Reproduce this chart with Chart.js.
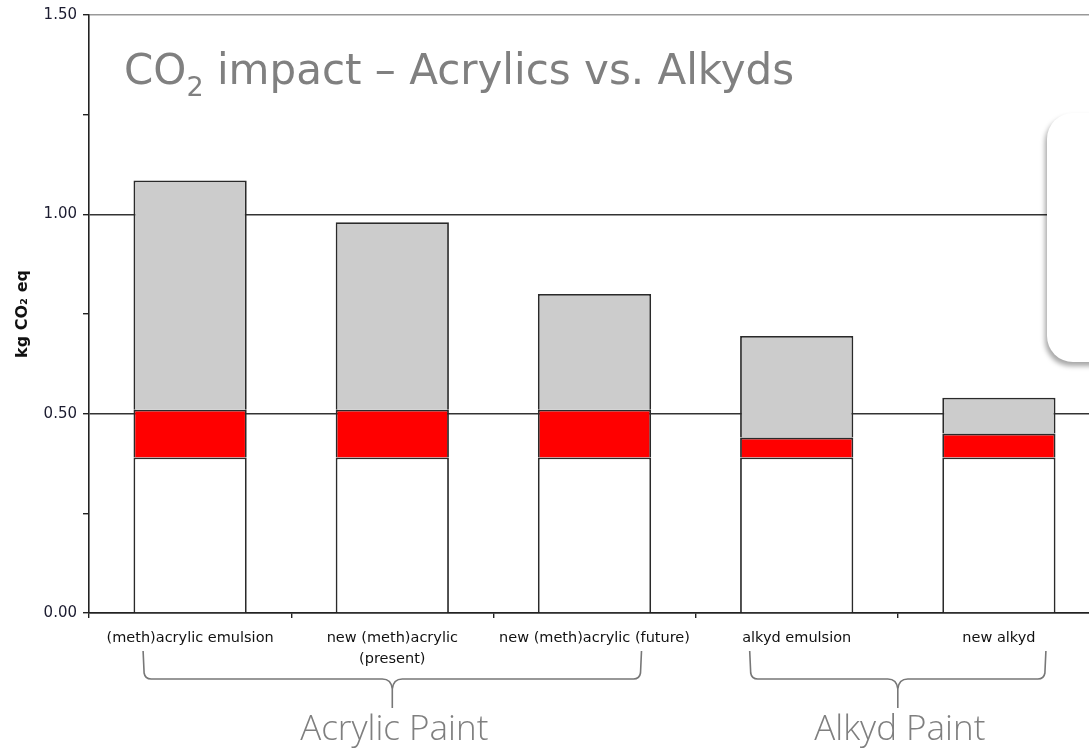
<!DOCTYPE html>
<html>
<head>
<meta charset="utf-8">
<script src="https://cdn.jsdelivr.net/npm/chart.js@4"></script>
<style>
  body { margin: 0; overflow: hidden; background: #fff; }
  #wrap { position: relative; width: 1100px; height: 748px; }
  #callout {
    position: absolute; left: 1047px; top: 113px; width: 90px; height: 249px;
    background: #fff; border-radius: 26px;
    box-shadow: -2px 4px 5px rgba(0,0,0,0.35);
  }
</style>
</head>
<body>
<div id="wrap">
  <canvas id="chart"></canvas>
  <div id="callout"></div>
</div>
<script>
// chart data
const categories = [
    '(meth)acrylic emulsion',
    ['new (meth)acrylic', '(present)'],
    'new (meth)acrylic (future)',
    'alkyd emulsion',
    'new alkyd'
];
const baseValues = [0.39, 0.39, 0.39, 0.39, 0.39];   // white part
const redValues = [0.12, 0.12, 0.12, 0.05, 0.06];    // red part
const greyValues = [0.575, 0.47, 0.29, 0.255, 0.09]; // grey part
const yTicks = [0, 0.5, 1.0, 1.5];
const groupNames = ['Acrylic Paint', 'Alkyd Paint'];
const groupRanges = [[0, 2], [3, 4]];

const titleFont = '"DejaVu Sans", sans-serif';

// draws the slide title, the braces and the group names
const extrasPlugin = {
    id: 'extras',
    afterDraw(chart) {
        const ctx = chart.ctx;
        const x = chart.scales.x;
        ctx.save();

        // title with subscript
        ctx.fillStyle = '#808080';
        ctx.textBaseline = 'alphabetic';
        ctx.textAlign = 'left';
        let tx = 124;
        ctx.font = '42px ' + titleFont;
        ctx.fillText('CO', tx, 84);
        tx += ctx.measureText('CO').width;
        ctx.font = '27px ' + titleFont;
        ctx.fillText('2', tx, 96);
        tx += ctx.measureText('2').width;
        ctx.font = '42px ' + titleFont;
        ctx.fillText(' impact \u2013 Acrylics vs. Alkyds', tx, 84);

        // braces
        ctx.strokeStyle = '#777';
        ctx.lineWidth = 1.6;
        groupRanges.forEach((r, i) => {
            const x0 = x.getPixelForValue(r[0]) - 47;
            const x1 = x.getPixelForValue(r[1]) + 47;
            const xm = (x0 + x1) / 2;
            const top = 651, mid = 679, tip = 708;
            ctx.beginPath();
            ctx.moveTo(x0, top);
            ctx.lineTo(x0 + 1, mid - 6);
            ctx.quadraticCurveTo(x0 + 2, mid, x0 + 8, mid);
            ctx.lineTo(xm - 10, mid);
            ctx.quadraticCurveTo(xm - 1, mid, xm, mid + 10);
            ctx.quadraticCurveTo(xm + 1, mid, xm + 10, mid);
            ctx.lineTo(x1 - 8, mid);
            ctx.quadraticCurveTo(x1 - 2, mid, x1 - 1, mid - 6);
            ctx.lineTo(x1, top);
            ctx.moveTo(xm, mid + 10);
            ctx.lineTo(xm, tip);
            ctx.stroke();

            ctx.fillStyle = '#7f7f7f';
            ctx.font = '300 35px "Open Sans", sans-serif';
            ctx.textAlign = 'center';
            ctx.fillText(groupNames[i], xm + 2, 740);
        });
        ctx.restore();
    }
};

const tickFont = { family: '"DejaVu Sans", sans-serif', size: 14.5, lineHeight: 1.5 };

new Chart(document.getElementById('chart'), {
    type: 'bar',
    data: {
        labels: categories,
        datasets: [
            { label: 'base', data: baseValues, backgroundColor: '#ffffff' },
            { label: 'red', data: redValues, backgroundColor: '#ff0000' },
            { label: 'grey', data: greyValues, backgroundColor: '#cccccc' }
        ].map(d => Object.assign(d, {
            borderColor: '#2a2a2a',
            borderWidth: { top: 1.8, left: 1.8, right: 1.8, bottom: 0 },
            borderSkipped: false,
            barPercentage: 0.56,
            categoryPercentage: 1.0
        }))
    },
    options: {
        responsive: true,
        maintainAspectRatio: false,
        animation: false,
        layout: { padding: { top: 14, left: 0, right: 0, bottom: 0 } },
        plugins: {
            legend: { display: false },
            tooltip: { enabled: false }
        },
        scales: {
            x: {
                stacked: true,
                afterFit: s => { s.height = 135; },
                border: { color: '#222', width: 1.6 },
                grid: { offset: true, drawOnChartArea: false, tickLength: 5, tickColor: '#222', lineWidth: 1.4 },
                ticks: { font: tickFont, color: '#111', padding: 9, maxRotation: 0, autoSkip: false }
            },
            y: {
                stacked: true,
                min: 0,
                max: 1.5,
                afterFit: s => { s.width = 89; },
                border: { color: '#222', width: 1.6 },
                grid: {
                    tickLength: 6,
                    lineWidth: 1.4,
                    tickColor: '#222',
                    color: ctx => {
                        const v = ctx.tick ? ctx.tick.value : 0;
                        if (!yTicks.includes(v)) return 'rgba(0,0,0,0)';
                        return v === 1.5 ? '#999' : '#333';
                    }
                },
                ticks: {
                    stepSize: 0.25,
                    font: { family: '"DejaVu Sans", sans-serif', size: 15 },
                    color: '#1c1c30',
                    padding: 6,
                    callback: v => yTicks.includes(v) ? v.toFixed(2) : ''
                },
                title: {
                    display: true,
                    text: 'kg CO\u2082 eq',
                    font: { family: '"DejaVu Sans", sans-serif', size: 16, weight: 'bold' },
                    color: '#111',
                    padding: { top: 13, bottom: 0 }
                }
            }
        }
    },
    plugins: [extrasPlugin]
});
</script>
</body>
</html>
